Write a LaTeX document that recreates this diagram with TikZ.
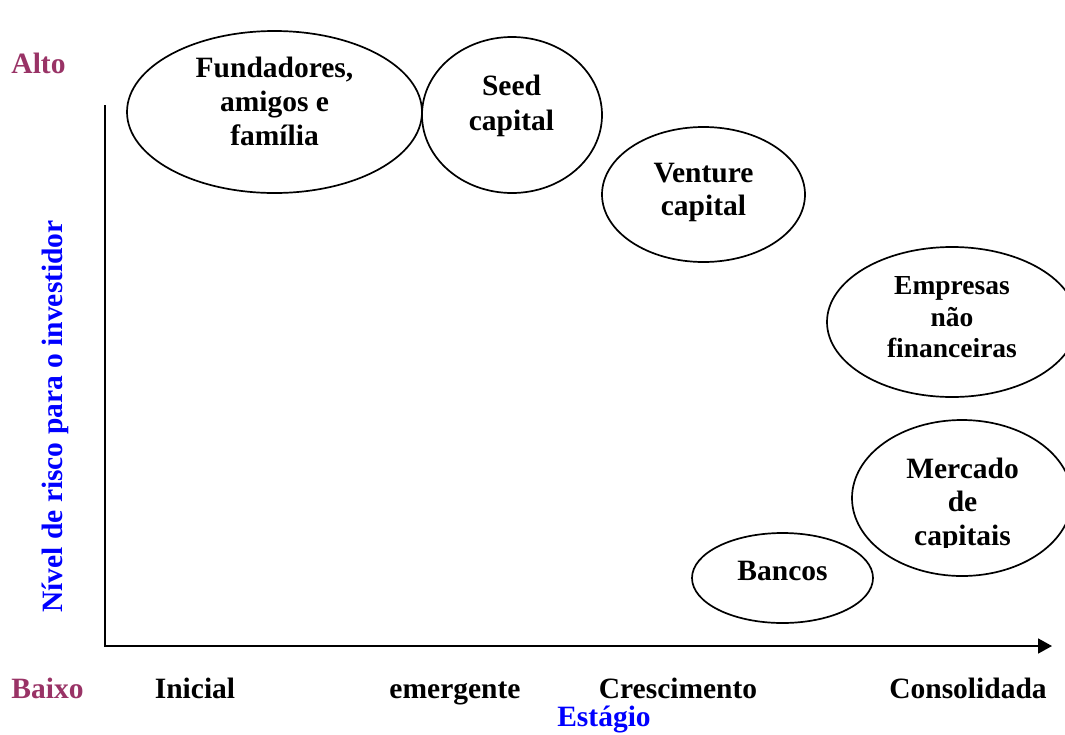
\documentclass[tikz,border=0pt]{standalone}
\usepackage{fontspec}
\setmainfont{Liberation Serif}
\usetikzlibrary{arrows.meta,shapes.geometric}
\definecolor{ameixa}{HTML}{993366}
\tikzset{
  fonte/.style={font=\fontsize{29.5}{34}\selectfont\bfseries},
  bolha/.style={draw, ellipse, line width=1.7pt, inner sep=0pt},
  texto/.style={fonte, align=center, inner sep=0pt},
  eixo/.style={line width=1.8pt},
}
\begin{document}
\begin{tikzpicture}[x=1pt,y=-1pt]
\useasboundingbox (0,0) rectangle (1065,734);
\begin{scope}
\clip (0,0) rectangle (1065,734);
% as bolhas das fontes de financiamento
\node[bolha, minimum width=295, minimum height=162] (fundadores) at (274.5,112) {};
\node[bolha, minimum width=180, minimum height=156] (seed) at (512,115) {};
\node[bolha, minimum width=203, minimum height=135] (venture) at (703.5,194.5) {};
\node[bolha, minimum width=250, minimum height=150] (empresas) at (952,322) {};
\node[bolha, minimum width=220, minimum height=156] (mercado) at (962,498) {};
\node[bolha, minimum width=181, minimum height=90] (bancos) at (782.5,578) {};
\end{scope}
\node[texto] (tfundadores) at (274.5,101) {Fundadores,\\amigos e\\família};
\node[texto, font=\fontsize{29.5}{35}\selectfont\bfseries] (tseed) at (511.5,105.7) {Seed\\capital};
\node[texto, font=\fontsize{29.5}{33}\selectfont\bfseries] (tventure) at (703.5,192) {Venture\\capital};
\node[texto, font=\fontsize{27.5}{31.5}\selectfont\bfseries] (tempresas) at (952,317.4) {Empresas\\não\\financeiras};
\begin{scope}
\clip (840,400) rectangle (1065,547);
\node[texto, font=\fontsize{29.5}{33.5}\selectfont\bfseries] (tmercado) at (962.5,504.7) {Mercado\\de\\capitais};
\end{scope}
\node[fonte, anchor=base, inner sep=0pt] (tbancos) at (782.5,580) {Bancos};
% eixos
\coordinate (topo) at (105,105);
\coordinate (fim) at (1052,646);
\draw[eixo, -{Triangle[length=14pt,width=15pt]}] (topo) |- (fim);
% niveis de risco
\node[fonte, text=ameixa, anchor=base, inner sep=0pt] (alto) at (38.5,73) {Alto};
\node[fonte, text=ameixa, anchor=base, inner sep=0pt] (baixo) at (47.5,698) {Baixo};
\node[fonte, text=blue, anchor=base, rotate=90, inner sep=0pt] (risco) at (62,416.5) {Nível de risco para o investidor};
% estagios
\node[fonte, anchor=base, inner sep=0pt] (inicial) at (195,698) {Inicial};
\node[fonte, anchor=base, inner sep=0pt] (emergente) at (455,698) {emergente};
\node[fonte, anchor=base, inner sep=0pt] (crescimento) at (678,698) {Crescimento};
\node[fonte, anchor=base, inner sep=0pt] (consolidada) at (968,698) {Consolidada};
\node[fonte, text=blue, anchor=base, inner sep=0pt] (estagio) at (604,726.5) {Estágio};
\end{tikzpicture}
\end{document}
